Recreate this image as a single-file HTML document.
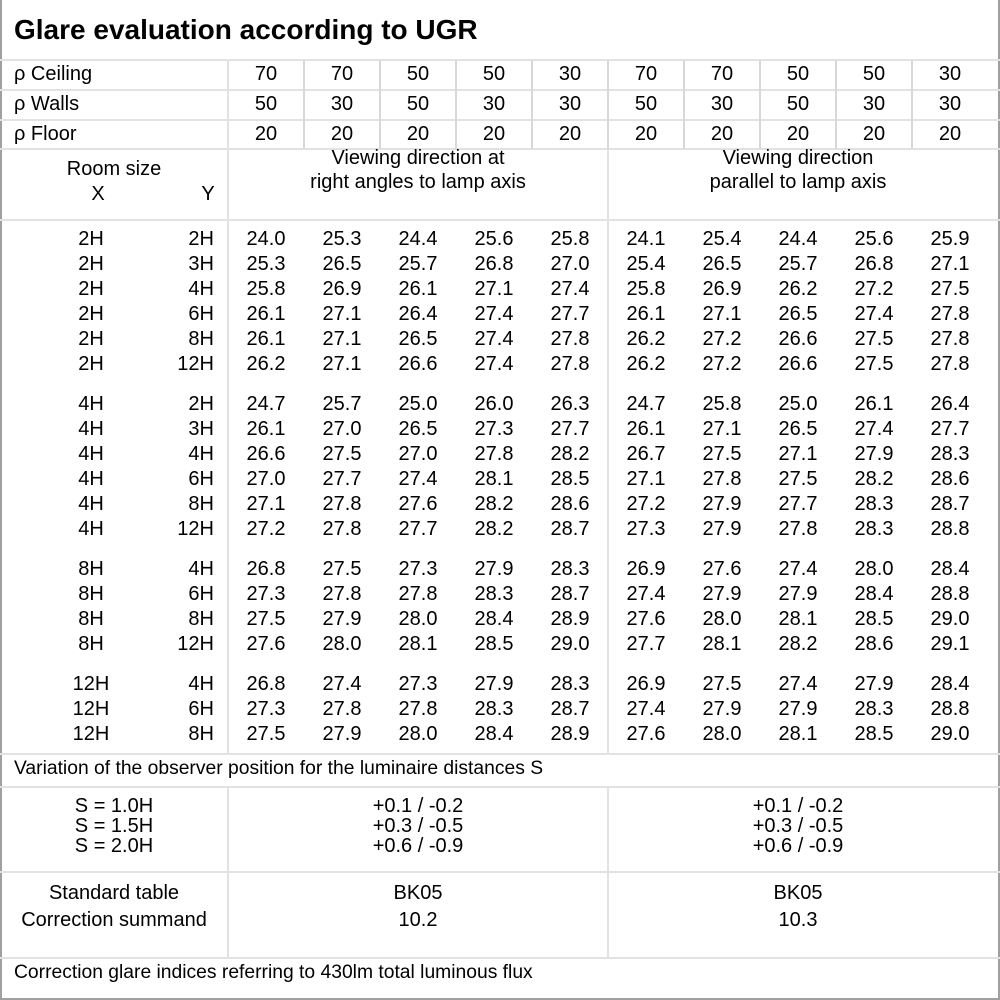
<!DOCTYPE html>
<html><head><meta charset="utf-8"><style>
*{margin:0;padding:0;box-sizing:border-box}
body{width:1000px;height:1000px;background:#fff;position:relative;overflow:hidden;font-family:"Liberation Sans","DejaVu Sans",sans-serif;font-size:20px;color:#000}
.fr{position:absolute;left:0;top:0;width:1000px;height:1000px;border:2px solid #a0a0a0;border-top:none}
.h{position:absolute;left:0;width:1000px;height:2px;background:#e2e2e2}
.v{position:absolute;width:2px;background:#e2e2e2}
.t{position:absolute;white-space:nowrap;line-height:25px;height:25px}
.r{position:absolute;left:0;width:1000px;height:25px;line-height:25px;display:flex}
.r .x{width:120px;margin-left:31px;text-align:center}
.r .y{width:77px;text-align:right;padding-right:14px}
.r span{width:76px;text-align:center}
.c{position:absolute;text-align:center;white-space:nowrap}
</style></head><body>
<div class="fr"></div>
<div class="t" style="left:14px;top:14px;font-size:28px;font-weight:bold;line-height:32px;height:32px">Glare evaluation according to UGR</div>
<div class="h" style="top:59px"></div>
<div class="h" style="top:89px"></div>
<div class="h" style="top:119px"></div>
<div class="h" style="top:148px"></div>
<div class="h" style="top:219px"></div>
<div class="h" style="top:753px"></div>
<div class="h" style="top:786px"></div>
<div class="h" style="top:871px"></div>
<div class="h" style="top:957px"></div>
<div class="v" style="left:227px;top:60px;height:694px"></div>
<div class="v" style="left:227px;top:787px;height:171px"></div>
<div class="v" style="left:607px;top:149px;height:605px"></div>
<div class="v" style="left:607px;top:787px;height:171px"></div>
<div class="v" style="left:303px;top:60px;height:89px;background:#d8d8d8"></div>
<div class="v" style="left:379px;top:60px;height:89px;background:#d8d8d8"></div>
<div class="v" style="left:455px;top:60px;height:89px;background:#d8d8d8"></div>
<div class="v" style="left:531px;top:60px;height:89px;background:#d8d8d8"></div>
<div class="v" style="left:607px;top:60px;height:89px;background:#d8d8d8"></div>
<div class="v" style="left:683px;top:60px;height:89px;background:#d8d8d8"></div>
<div class="v" style="left:759px;top:60px;height:89px;background:#d8d8d8"></div>
<div class="v" style="left:835px;top:60px;height:89px;background:#d8d8d8"></div>
<div class="v" style="left:911px;top:60px;height:89px;background:#d8d8d8"></div>

<div class="r" style="top:62px"><div style="width:228px;padding-left:14px">ρ Ceiling</div><span>70</span><span>70</span><span>50</span><span>50</span><span>30</span><span>70</span><span>70</span><span>50</span><span>50</span><span>30</span></div>
<div class="r" style="top:92px"><div style="width:228px;padding-left:14px">ρ Walls</div><span>50</span><span>30</span><span>50</span><span>30</span><span>30</span><span>50</span><span>30</span><span>50</span><span>30</span><span>30</span></div>
<div class="r" style="top:122px"><div style="width:228px;padding-left:14px">ρ Floor</div><span>20</span><span>20</span><span>20</span><span>20</span><span>20</span><span>20</span><span>20</span><span>20</span><span>20</span><span>20</span></div>

<div class="c" style="left:0;width:228px;top:157px;line-height:25px">Room size</div>
<div class="c" style="left:68px;width:60px;top:182px;line-height:25px">X</div>
<div class="c" style="left:178px;width:60px;top:182px;line-height:25px">Y</div>
<div class="c" style="left:228px;width:380px;top:146px;line-height:24px">Viewing direction at<br>right angles to lamp axis</div>
<div class="c" style="left:608px;width:380px;top:146px;line-height:24px">Viewing direction<br>parallel to lamp axis</div>

<div class="r" style="top:227px"><div class="x">2H</div><div class="y">2H</div><span>24.0</span><span>25.3</span><span>24.4</span><span>25.6</span><span>25.8</span><span>24.1</span><span>25.4</span><span>24.4</span><span>25.6</span><span>25.9</span></div>
<div class="r" style="top:252px"><div class="x">2H</div><div class="y">3H</div><span>25.3</span><span>26.5</span><span>25.7</span><span>26.8</span><span>27.0</span><span>25.4</span><span>26.5</span><span>25.7</span><span>26.8</span><span>27.1</span></div>
<div class="r" style="top:277px"><div class="x">2H</div><div class="y">4H</div><span>25.8</span><span>26.9</span><span>26.1</span><span>27.1</span><span>27.4</span><span>25.8</span><span>26.9</span><span>26.2</span><span>27.2</span><span>27.5</span></div>
<div class="r" style="top:302px"><div class="x">2H</div><div class="y">6H</div><span>26.1</span><span>27.1</span><span>26.4</span><span>27.4</span><span>27.7</span><span>26.1</span><span>27.1</span><span>26.5</span><span>27.4</span><span>27.8</span></div>
<div class="r" style="top:327px"><div class="x">2H</div><div class="y">8H</div><span>26.1</span><span>27.1</span><span>26.5</span><span>27.4</span><span>27.8</span><span>26.2</span><span>27.2</span><span>26.6</span><span>27.5</span><span>27.8</span></div>
<div class="r" style="top:352px"><div class="x">2H</div><div class="y">12H</div><span>26.2</span><span>27.1</span><span>26.6</span><span>27.4</span><span>27.8</span><span>26.2</span><span>27.2</span><span>26.6</span><span>27.5</span><span>27.8</span></div>

<div class="r" style="top:392px"><div class="x">4H</div><div class="y">2H</div><span>24.7</span><span>25.7</span><span>25.0</span><span>26.0</span><span>26.3</span><span>24.7</span><span>25.8</span><span>25.0</span><span>26.1</span><span>26.4</span></div>
<div class="r" style="top:417px"><div class="x">4H</div><div class="y">3H</div><span>26.1</span><span>27.0</span><span>26.5</span><span>27.3</span><span>27.7</span><span>26.1</span><span>27.1</span><span>26.5</span><span>27.4</span><span>27.7</span></div>
<div class="r" style="top:442px"><div class="x">4H</div><div class="y">4H</div><span>26.6</span><span>27.5</span><span>27.0</span><span>27.8</span><span>28.2</span><span>26.7</span><span>27.5</span><span>27.1</span><span>27.9</span><span>28.3</span></div>
<div class="r" style="top:467px"><div class="x">4H</div><div class="y">6H</div><span>27.0</span><span>27.7</span><span>27.4</span><span>28.1</span><span>28.5</span><span>27.1</span><span>27.8</span><span>27.5</span><span>28.2</span><span>28.6</span></div>
<div class="r" style="top:492px"><div class="x">4H</div><div class="y">8H</div><span>27.1</span><span>27.8</span><span>27.6</span><span>28.2</span><span>28.6</span><span>27.2</span><span>27.9</span><span>27.7</span><span>28.3</span><span>28.7</span></div>
<div class="r" style="top:517px"><div class="x">4H</div><div class="y">12H</div><span>27.2</span><span>27.8</span><span>27.7</span><span>28.2</span><span>28.7</span><span>27.3</span><span>27.9</span><span>27.8</span><span>28.3</span><span>28.8</span></div>

<div class="r" style="top:557px"><div class="x">8H</div><div class="y">4H</div><span>26.8</span><span>27.5</span><span>27.3</span><span>27.9</span><span>28.3</span><span>26.9</span><span>27.6</span><span>27.4</span><span>28.0</span><span>28.4</span></div>
<div class="r" style="top:582px"><div class="x">8H</div><div class="y">6H</div><span>27.3</span><span>27.8</span><span>27.8</span><span>28.3</span><span>28.7</span><span>27.4</span><span>27.9</span><span>27.9</span><span>28.4</span><span>28.8</span></div>
<div class="r" style="top:607px"><div class="x">8H</div><div class="y">8H</div><span>27.5</span><span>27.9</span><span>28.0</span><span>28.4</span><span>28.9</span><span>27.6</span><span>28.0</span><span>28.1</span><span>28.5</span><span>29.0</span></div>
<div class="r" style="top:632px"><div class="x">8H</div><div class="y">12H</div><span>27.6</span><span>28.0</span><span>28.1</span><span>28.5</span><span>29.0</span><span>27.7</span><span>28.1</span><span>28.2</span><span>28.6</span><span>29.1</span></div>

<div class="r" style="top:672px"><div class="x">12H</div><div class="y">4H</div><span>26.8</span><span>27.4</span><span>27.3</span><span>27.9</span><span>28.3</span><span>26.9</span><span>27.5</span><span>27.4</span><span>27.9</span><span>28.4</span></div>
<div class="r" style="top:697px"><div class="x">12H</div><div class="y">6H</div><span>27.3</span><span>27.8</span><span>27.8</span><span>28.3</span><span>28.7</span><span>27.4</span><span>27.9</span><span>27.9</span><span>28.3</span><span>28.8</span></div>
<div class="r" style="top:722px"><div class="x">12H</div><div class="y">8H</div><span>27.5</span><span>27.9</span><span>28.0</span><span>28.4</span><span>28.9</span><span>27.6</span><span>28.0</span><span>28.1</span><span>28.5</span><span>29.0</span></div>

<div class="t" style="left:14px;top:756px;font-size:19.3px">Variation of the observer position for the luminaire distances S</div>
<div class="c" style="left:0;width:228px;top:796px;line-height:20px">S = 1.0H<br>S = 1.5H<br>S = 2.0H</div>
<div class="c" style="left:228px;width:380px;top:796px;line-height:20px">+0.1 / -0.2<br>+0.3 / -0.5<br>+0.6 / -0.9</div>
<div class="c" style="left:608px;width:380px;top:796px;line-height:20px">+0.1 / -0.2<br>+0.3 / -0.5<br>+0.6 / -0.9</div>
<div class="c" style="left:0;width:228px;top:880px;line-height:27px">Standard table<br>Correction summand</div>
<div class="c" style="left:228px;width:380px;top:880px;line-height:27px">BK05<br>10.2</div>
<div class="c" style="left:608px;width:380px;top:880px;line-height:27px">BK05<br>10.3</div>
<div class="t" style="left:14px;top:960px;font-size:19.3px">Correction glare indices referring to 430lm total luminous flux</div>
</body></html>
